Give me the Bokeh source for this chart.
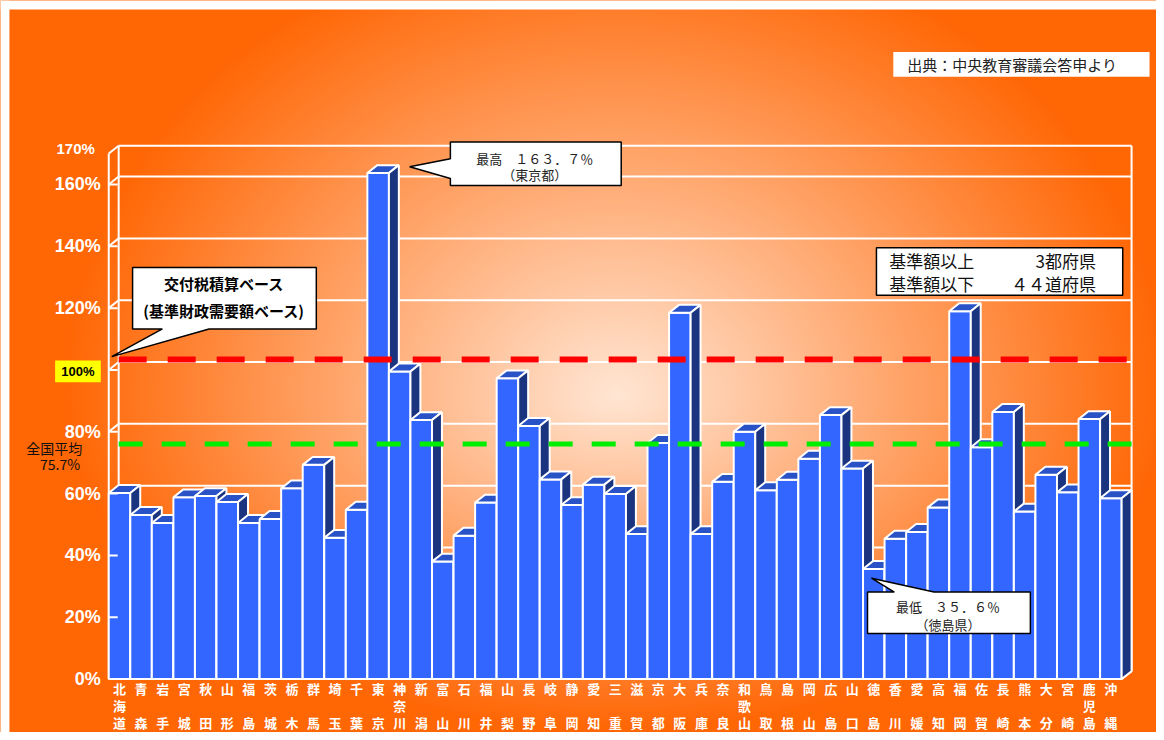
import numpy as np
from bokeh.plotting import figure
from bokeh.models import Range1d
from bokeh.embed import file_html
from bokeh.resources import INLINE
from bokeh.core.properties import value

# ---------------- data ----------------
prefectures = ["北海道", "青森", "岩手", "宮城", "秋田", "山形", "福島", "茨城", "栃木", "群馬",
               "埼玉", "千葉", "東京", "神奈川", "新潟", "富山", "石川", "福井", "山梨", "長野",
               "岐阜", "静岡", "愛知", "三重", "滋賀", "京都", "大阪", "兵庫", "奈良", "和歌山",
               "鳥取", "島根", "岡山", "広島", "山口", "徳島", "香川", "愛媛", "高知", "福岡",
               "佐賀", "長崎", "熊本", "大分", "宮崎", "鹿児島", "沖縄"]
ratio = [60.2, 53.1, 50.5, 58.8, 59.2, 57.3, 50.5, 51.8, 61.7, 69.3,
         45.7, 54.8, 163.7, 99.5, 83.8, 38.0, 46.4, 57.1, 97.3, 81.9,
         64.6, 56.3, 62.9, 59.9, 46.9, 76.4, 118.5, 46.9, 63.8, 80.0,
         61.1, 64.5, 71.3, 85.4, 68.1, 35.6, 45.4, 47.6, 55.5, 119.0,
         75.0, 86.4, 54.2, 66.1, 60.4, 84.1, 58.5]
y_ticks = [0, 20, 40, 60, 80, 100, 120, 140, 160]
y_tick_labels = [f"{v}%" for v in y_ticks]
y_top = 170
national_avg = 75.7
base_level = 100
max_text = ["最高　１６３．７％", "（東京都）"]
min_text = ["最低　３５．６％", "（徳島県）"]
base_text = ["交付税積算ベース", "(基準財政需要額ベース)"]
legend_left = ["基準額以上", "基準額以下"]
legend_right = ["3都府県", "４４道府県"]
source_text = "出典：中央教育審議会答申より"
avg_text = ["全国平均", "75.7%"]

# ---------------- layout helpers (reference-image pixel space 1164x740) ----------------
W, H = 1156, 732
RW, RH = 1164, 740
X0PX, PXX = 109.0, 21.7     # x of category 0 left edge, px per category
Y0PX, PXY = 686.0, 3.125    # y of 0%, px per percent


def X(ix):
    return (ix - X0PX) / PXX


def Y(iy):
    return (Y0PX - iy) / PXY


DX = 10 / PXX   # depth offset
DY = 8 / PXY
N = len(ratio)
JP = value("Noto Sans CJK JP")

p = figure(width=W, height=H, x_range=Range1d(X(0), X(RW)), y_range=Range1d(Y(RH), Y(0)),
           output_backend="svg", toolbar_location=None, x_axis_location=None, y_axis_location=None,
           min_border=0)
p.grid.visible = False
p.outline_line_color = None
p.background_fill_color = "#FF6600"
p.border_fill_color = "#FF6600"

# ---------------- radial gradient background ----------------
gw, gh = 582, 370
ix = np.linspace(0, RW, gw)
iy = np.linspace(RH, 0, gh)
IX, IY = np.meshgrid(ix, iy)
cy = 400.0
ry = np.where(IY < cy, 480.0, 340.0)
d = np.sqrt(((IX - 620) / 560) ** 2 + ((IY - cy) / ry) ** 2)
t = np.clip(d, 0, 1)
img = np.empty((gh, gw), dtype=np.uint32)
view = img.view(dtype=np.uint8).reshape((gh, gw, 4))
view[..., 0] = 255
view[..., 1] = (230 + (102 - 230) * t).astype(np.uint8)
view[..., 2] = (212 + (4 - 212) * t).astype(np.uint8)
view[..., 3] = 255
p.image_rgba(image=[img], x=X(0), y=Y(RH), dw=X(RW) - X(0), dh=Y(0) - Y(RH))

# white page border (top / left)
p.quad(left=[X(0), X(0)], right=[X(9), X(RW)], top=[Y(0), Y(0)], bottom=[Y(RH), Y(9)],
       fill_color="white", line_color=None)

# ---------------- 3D frame (walls / grid) ----------------
levels = [v for v in y_ticks if v > 0] + [y_top]
p.multi_line([[DX, N + DX] for v in [0] + levels], [[v + DY, v + DY] for v in [0] + levels],
             line_color="white", line_width=2)
p.multi_line([[0, DX] for v in levels], [[v, v + DY] for v in levels], line_color="white", line_width=2)
p.multi_line([[0, 0], [DX, DX], [N + DX, N + DX], [0, N], [N, N + DX]],
             [[0, y_top], [DY, y_top + DY], [DY, y_top + DY], [0, 0], [0, DY]],
             line_color="white", line_width=2)

# ---------------- bars ----------------
pxs, pys, pcols = [], [], []
for i, v in enumerate(ratio):
    pxs.append([i, i, i + 1, i + 1]); pys.append([0, v, v, 0]); pcols.append("#3366FF")
    pxs.append([i, i + DX, i + 1 + DX, i + 1]); pys.append([v, v + DY, v + DY, v]); pcols.append("#2852C6")
    pxs.append([i + 1, i + 1, i + 1 + DX, i + 1 + DX]); pys.append([0, v, v + DY, DY]); pcols.append("#1B3480")
p.patches(pxs, pys, fill_color=pcols, line_color="white", line_width=2)

# ---------------- reference lines ----------------
p.line([DX, N + DX], [base_level + DY + 0.8] * 2, line_color="#FF0000", line_width=6, line_dash="28 21")
p.line([DX, N + DX], [national_avg + 0.35] * 2, line_color="#00EE00", line_width=5, line_dash="24 19")

# ---------------- ticks and tick labels ----------------
p.multi_line([[0, X(118)] for v in y_ticks], [[v, v] for v in y_ticks], line_color="white", line_width=2)
p.text(x=[X(101)] * len(y_ticks), y=y_ticks, text=y_tick_labels, text_align="right", text_baseline="middle",
       text_color="white", text_font=value("Liberation Sans"), text_font_style="bold", text_font_size="18px")
p.text(x=[X(95)], y=[Y(150)], text=[f"{y_top}%"], text_align="right", text_baseline="middle",
       text_color="white", text_font=value("Liberation Sans"), text_font_style="bold", text_font_size="15px")

# 100% yellow marker
p.quad(left=[X(55)], right=[X(101)], top=[Y(364)], bottom=[Y(386)], fill_color="#FFFF00", line_color=None)
p.text(x=[X(78)], y=[Y(375)], text=[f"{base_level}%"], text_align="center", text_baseline="middle",
       text_color="black", text_font=value("Liberation Sans"), text_font_style="bold", text_font_size="13px")

# national average label
p.text(x=[X(54), X(60)], y=[Y(452), Y(469)], text=avg_text, text_align="center", text_baseline="middle",
       text_color="#111111", text_font=JP, text_font_size="14px")

# ---------------- category labels (vertical) ----------------
rows = [[n[0] for n in prefectures],
        [n[1] if len(n) == 3 else "" for n in prefectures],
        [n[-1] for n in prefectures]]
for r, ry_ in zip(rows, [695.7, 713, 730]):
    p.text(x=[i + 0.5 for i in range(N)], y=[Y(ry_)] * N, text=r, text_align="center", text_baseline="middle",
           text_color="white", text_font=JP, text_font_style="bold", text_font_size="13px")


# ---------------- callouts ----------------
def callout(pts):
    p.patch([X(a) for a, b in pts], [Y(b) for a, b in pts], fill_color="white", line_color="black",
            line_width=1.5)


callout([(133, 270), (318, 270), (318, 332), (210, 332), (112, 360), (163, 332), (133, 332)])
p.text(x=[X(225), X(225)], y=[Y(286), Y(313)], text=base_text, text_align="center", text_baseline="middle",
       text_color="black", text_font=JP, text_font_style="bold", text_font_size="15px")

callout([(453, 143), (625, 143), (625, 187), (453, 187), (453, 180), (412, 168), (453, 160)])
p.text(x=[X(538), X(538)], y=[Y(160), Y(176)], text=max_text, text_align="center", text_baseline="middle",
       text_color="#222222", text_font=JP, text_font_size="13px")

callout([(873, 598), (900, 598), (877, 584), (940, 598), (1037, 598), (1037, 640), (873, 640)])
p.text(x=[X(954), X(954)], y=[Y(613), Y(631)], text=min_text, text_align="center", text_baseline="middle",
       text_color="#222222", text_font=JP, text_font_size="13px")

# legend box
p.quad(left=[X(882)], right=[X(1130)], top=[Y(250)], bottom=[Y(298)], fill_color="white", line_color="black",
       line_width=1.5)
p.text(x=[X(895)] * 2, y=[Y(263), Y(286)], text=legend_left, text_align="left", text_baseline="middle",
       text_color="#111111", text_font=JP, text_font_size="17px")
p.text(x=[X(1103)] * 2, y=[Y(263), Y(286)], text=legend_right, text_align="right", text_baseline="middle",
       text_color="#111111", text_font=JP, text_font_size="17px")

# source box
p.quad(left=[X(899)], right=[X(1157)], top=[Y(52)], bottom=[Y(77)], fill_color="white", line_color=None)
p.text(x=[X(913)], y=[Y(65)], text=[source_text], text_align="left", text_baseline="middle",
       text_color="#222222", text_font=JP, text_font_size="15px")

open("out.html", "w").write(file_html(p, INLINE))
